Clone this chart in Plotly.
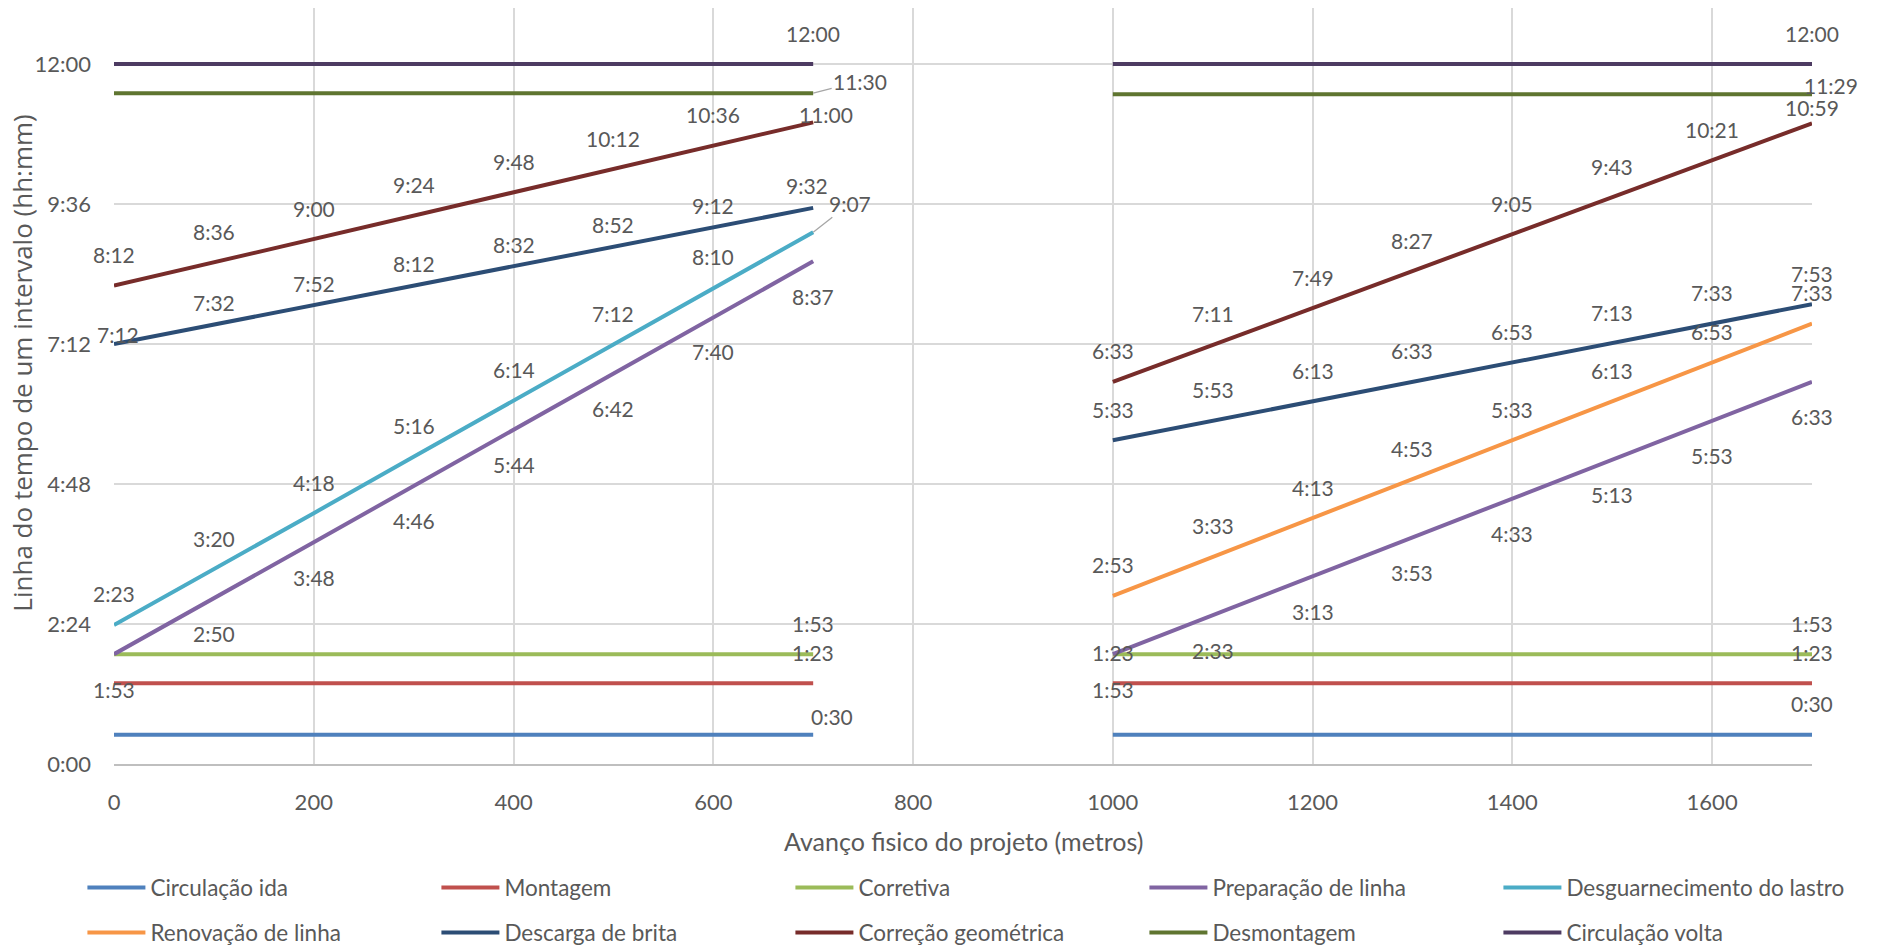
import plotly.graph_objects as go

# Distance along the work front (metros), two work windows
dist_a = [0, 100, 200, 300, 400, 500, 600, 700]
dist_b = [1000, 1100, 1200, 1300, 1400, 1500, 1600, 1700]

# Time of day for each activity (hh:mm)
circulacao_ida_a = ["0:30", "0:30", "0:30", "0:30", "0:30", "0:30", "0:30", "0:30"]
circulacao_ida_b = ["0:30", "0:30", "0:30", "0:30", "0:30", "0:30", "0:30", "0:30"]
montagem_a = ["1:23", "1:23", "1:23", "1:23", "1:23", "1:23", "1:23", "1:23"]
montagem_b = ["1:23", "1:23", "1:23", "1:23", "1:23", "1:23", "1:23", "1:23"]
corretiva_a = ["1:53", "1:53", "1:53", "1:53", "1:53", "1:53", "1:53", "1:53"]
corretiva_b = ["1:53", "1:53", "1:53", "1:53", "1:53", "1:53", "1:53", "1:53"]
preparacao_a = ["1:53", "2:50", "3:48", "4:46", "5:44", "6:42", "7:40", "8:37"]
preparacao_b = ["1:53", "2:33", "3:13", "3:53", "4:33", "5:13", "5:53", "6:33"]
desguarnecimento_a = ["2:23", "3:20", "4:18", "5:16", "6:14", "7:12", "8:10", "9:07"]
renovacao_b = ["2:53", "3:33", "4:13", "4:53", "5:33", "6:13", "6:53", "7:33"]
descarga_a = ["7:12", "7:32", "7:52", "8:12", "8:32", "8:52", "9:12", "9:32"]
descarga_b = ["5:33", "5:53", "6:13", "6:33", "6:53", "7:13", "7:33", "7:53"]
correcao_a = ["8:12", "8:36", "9:00", "9:24", "9:48", "10:12", "10:36", "11:00"]
correcao_b = ["6:33", "7:11", "7:49", "8:27", "9:05", "9:43", "10:21", "10:59"]
desmontagem_a = ["11:30", "11:30", "11:30", "11:30", "11:30", "11:30", "11:30", "11:30"]
desmontagem_b = ["11:29", "11:29", "11:29", "11:29", "11:29", "11:29", "11:29", "11:29"]
circulacao_volta_a = ["12:00", "12:00", "12:00", "12:00", "12:00", "12:00", "12:00", "12:00"]
circulacao_volta_b = ["12:00", "12:00", "12:00", "12:00", "12:00", "12:00", "12:00", "12:00"]

y_tick_labels = ["0:00", "2:24", "4:48", "7:12", "9:36", "12:00"]
x_tick_values = [0, 200, 400, 600, 800, 1000, 1200, 1400, 1600]

TEXT = "#595959"
FONT = "Lato, 'Open Sans', sans-serif"


def to_min(s):
    h, m = s.split(":")
    return int(h) * 60 + int(m)


# name, color, part A, part B, label side, points labelled (None = all)
series = [
    ("Circulação ida", "#4F81BD", circulacao_ida_a, circulacao_ida_b, "above", [700, 1700]),
    ("Montagem", "#C0504D", montagem_a, montagem_b, "above", [700, 1000, 1700]),
    ("Corretiva", "#9BBB59", corretiva_a, corretiva_b, "above", [700, 1700]),
    ("Preparação de linha", "#8064A2", preparacao_a, preparacao_b, "below", None),
    ("Desguarnecimento do lastro", "#4BACC6", desguarnecimento_a, None, "above", None),
    ("Renovação de linha", "#F79646", None, renovacao_b, "above", None),
    ("Descarga de brita", "#2C4D75", descarga_a, descarga_b, "above", None),
    ("Correção geométrica", "#772C2A", correcao_a, correcao_b, "above", None),
    ("Desmontagem", "#5F7530", desmontagem_a, desmontagem_b, "above", [700, 1700]),
    ("Circulação volta", "#4D3B62", circulacao_volta_a, circulacao_volta_b, "above", [700, 1700]),
]

# Hand-placed labels where the default position would collide
label_shift = {
    ("Circulação ida", 700): (19, 18),
    ("Desmontagem", 1700): (19, 9),
    ("Correção geométrica", 700): (13, 8),
    ("Correção geométrica", 1700): (0, 16),
    ("Descarga de brita", 0): (4, 10),
    ("Descarga de brita", 100): (0, 22),
    ("Descarga de brita", 200): (0, 22),
    ("Descarga de brita", 300): (0, 22),
    ("Descarga de brita", 400): (0, 22),
    ("Descarga de brita", 500): (0, 22),
    ("Descarga de brita", 600): (0, 22),
    ("Descarga de brita", 700): (-6, 22),
}
label_leader = {
    ("Desmontagem", 700): (47, -12),
    ("Desguarnecimento do lastro", 700): (37, -29),
}

fig = go.Figure()
annotations = []
for i, (name, color, part_a, part_b, side, labelled) in enumerate(series):
    xs, ys, pts = [], [], []
    if part_a is not None:
        xs += dist_a
        ys += [to_min(v) for v in part_a]
        pts += list(zip(dist_a, part_a))
    if part_a is not None and part_b is not None:
        xs.append(None)
        ys.append(None)
    if part_b is not None:
        xs += dist_b
        ys += [to_min(v) for v in part_b]
        pts += list(zip(dist_b, part_b))
    fig.add_trace(go.Scatter(
        x=xs, y=ys, mode="lines", name=name,
        line=dict(color=color, width=4),
        connectgaps=False, hoverinfo="skip",
        legend="legend" if i < 5 else "legend2",
    ))
    for x, v in pts:
        if labelled is not None and x not in labelled:
            continue
        key = (name, x)
        if key in label_leader:
            ax, ay = label_leader[key]
            annotations.append(dict(
                x=x, y=to_min(v), text=v, showarrow=True, ax=ax, ay=ay,
                arrowhead=0, arrowwidth=1.3, arrowcolor="#A6A6A6",
                standoff=0, startstandoff=0,
                font=dict(family=FONT, size=21, color=TEXT),
            ))
            continue
        xs_, ys_ = label_shift.get(key, (0, 31 if side == "above" else -35))
        annotations.append(dict(
            x=x, y=to_min(v), text=v, showarrow=False,
            xshift=xs_, yshift=ys_,
            font=dict(family=FONT, size=21, color=TEXT),
        ))

# Axis titles
annotations.append(dict(
    text="Linha do tempo de um intervalo (hh:mm)", textangle=-90,
    xref="paper", yref="paper", x=-0.054, y=0.530,
    xanchor="center", yanchor="middle",
    showarrow=False, font=dict(family="'Open Sans', sans-serif", size=26, color=TEXT),
))
annotations.append(dict(
    text="Avanço fisico do projeto (metros)",
    xref="paper", yref="paper", x=0.5, y=-0.1019,
    xanchor="center", yanchor="middle",
    showarrow=False, font=dict(family=FONT, size=25, color=TEXT),
))

legend_common = dict(
    orientation="h", xref="paper", yref="paper",
    xanchor="left", yanchor="middle",
    entrywidth=281, entrywidthmode="pixels", itemwidth=58,
    font=dict(family=FONT, size=22.5, color=TEXT),
    bgcolor="rgba(0,0,0,0)", itemclick=False, itemdoubleclick=False,
)

fig.update_layout(
    width=1878, height=948,
    margin=dict(l=114, r=66, t=8, b=184, autoexpand=False),
    paper_bgcolor="white", plot_bgcolor="white",
    font=dict(family=FONT, size=21, color=TEXT),
    showlegend=True,
    legend=dict(x=-0.0186, y=-0.164, **legend_common),
    legend2=dict(x=-0.0186, y=-0.2235, **legend_common),
    annotations=annotations,
    xaxis=dict(
        range=[0, 1700], tickvals=x_tick_values,
        showgrid=True, gridcolor="#D9D9D9", gridwidth=1.5,
        zeroline=False, showline=True, linecolor="#BFBFBF", linewidth=2,
        ticks="", ticklabelstandoff=18,
        tickfont=dict(family=FONT, size=22, color=TEXT),
    ),
    yaxis=dict(
        range=[0, 777.6],
        tickvals=[to_min(t) for t in y_tick_labels], ticktext=y_tick_labels,
        showgrid=True, gridcolor="#D9D9D9", gridwidth=1.5,
        zeroline=False, showline=False, ticks="", ticklabelstandoff=22,
        tickfont=dict(family=FONT, size=22, color=TEXT),
    ),
)

fig.write_html("out.html")
